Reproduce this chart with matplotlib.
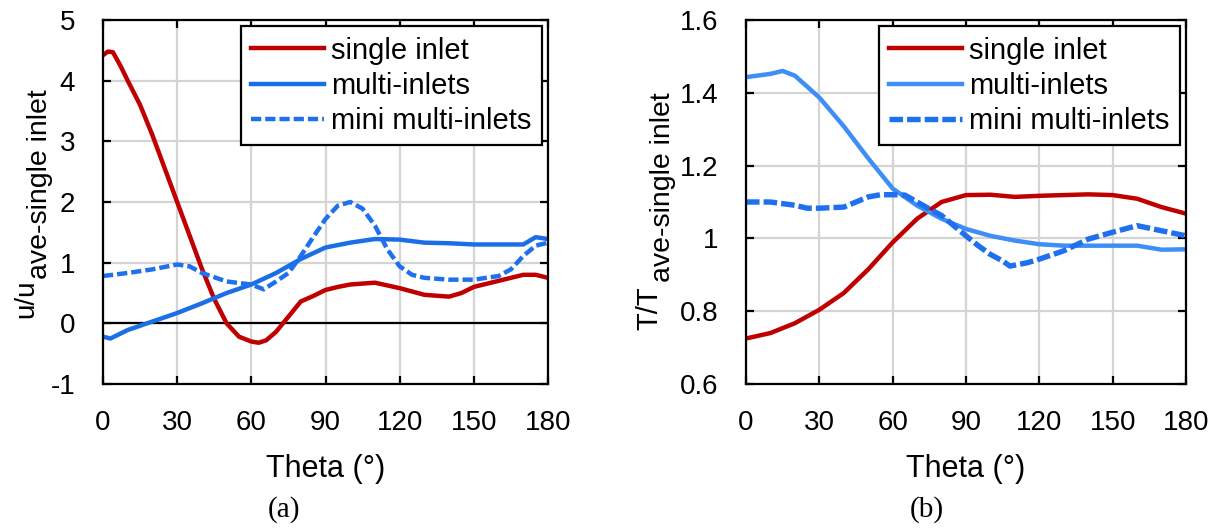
import numpy as np
import matplotlib.pyplot as plt

plt.rcParams['font.family'] = ['Liberation Sans', 'DejaVu Sans']
plt.rcParams['axes.unicode_minus'] = False

# (a) velocity ratio u/u_ave-single inlet
a_single_x = [0, 2, 4, 7, 10, 15, 20, 25, 30, 35, 40, 45, 50, 55, 60, 63, 66, 70, 75, 80, 85,
              90, 95, 100, 110, 120, 130, 140, 145, 150, 160, 170, 175, 180]
a_single_y = [4.42, 4.48, 4.47, 4.25, 4.0, 3.6, 3.1, 2.55, 2.0, 1.45, 0.9, 0.4, 0.0, -0.22, -0.3,
              -0.32, -0.28, -0.14, 0.11, 0.36, 0.45, 0.55, 0.6, 0.64, 0.67, 0.58, 0.47, 0.44,
              0.5, 0.6, 0.7, 0.8, 0.8, 0.75]
a_multi_x = [0, 3, 10, 20, 30, 40, 50, 60, 70, 80, 90, 100, 110, 120, 130, 140, 150, 160, 170,
             175, 180]
a_multi_y = [-0.22, -0.25, -0.11, 0.03, 0.17, 0.33, 0.5, 0.64, 0.83, 1.06, 1.25, 1.33, 1.39,
             1.38, 1.33, 1.32, 1.3, 1.3, 1.3, 1.42, 1.39]
a_mini_x = [0, 10, 20, 30, 35, 40, 50, 60, 65, 70, 75, 80, 85, 90, 95, 100, 105, 110, 115, 120,
            125, 130, 140, 150, 160, 165, 170, 175, 180]
a_mini_y = [0.78, 0.83, 0.89, 0.97, 0.94, 0.83, 0.69, 0.64, 0.56, 0.69, 0.83, 1.11, 1.42, 1.72,
            1.94, 2.0, 1.89, 1.61, 1.22, 0.94, 0.8, 0.75, 0.72, 0.72, 0.78, 0.89, 1.11, 1.28, 1.33]

# (b) temperature ratio T/T_ave-single inlet
b_single_x = [0, 10, 20, 30, 40, 50, 60, 70, 80, 90, 100, 110, 120, 130, 140, 150, 160, 170, 180]
b_single_y = [0.725, 0.74, 0.767, 0.804, 0.85, 0.915, 0.989, 1.054, 1.1, 1.119, 1.12, 1.114,
              1.117, 1.119, 1.121, 1.119, 1.109, 1.086, 1.068]
b_multi_x = [0, 10, 15, 20, 30, 40, 50, 60, 70, 80, 90, 100, 110, 120, 130, 140, 150, 160, 170, 180]
b_multi_y = [1.443, 1.452, 1.46, 1.447, 1.387, 1.308, 1.22, 1.137, 1.09, 1.054, 1.026, 1.007,
             0.994, 0.984, 0.98, 0.98, 0.98, 0.98, 0.969, 0.97]
b_mini_x = [0, 10, 20, 25, 30, 40, 45, 50, 55, 60, 65, 70, 75, 80, 85, 90, 95, 100, 105, 108,
            115, 120, 130, 140, 150, 160, 165, 170, 180]
b_mini_y = [1.1, 1.1, 1.091, 1.083, 1.083, 1.086, 1.1, 1.114, 1.12, 1.12, 1.119, 1.1, 1.081,
            1.063, 1.035, 1.007, 0.98, 0.956, 0.938, 0.924, 0.933, 0.943, 0.966, 0.998, 1.017,
            1.035, 1.028, 1.021, 1.007]

labels = ['single inlet', 'multi-inlets', 'mini multi-inlets']
xticks = [0, 30, 60, 90, 120, 150, 180]

red = '#c00000'
blue_a = '#1b6fe6'
blue_b = '#3d8ef5'
blue_dash = '#1f70ee'

W, H = 1223, 528
fig = plt.figure(figsize=(W / 100, H / 100), dpi=100)
ax1 = fig.add_axes([103 / W, 1 - 384 / H, 445 / W, 364 / H])
ax2 = fig.add_axes([746 / W, 1 - 384 / H, 440 / W, 364 / H])


def style(ax, yticks, ylim):
    ax.set_xlim(0, 180)
    ax.set_ylim(*ylim)
    ax.set_xticks(xticks)
    ax.set_yticks(yticks)
    ax.grid(True, color='#d4d4d4', lw=1.6)
    ax.set_axisbelow(True)
    for s in ax.spines.values():
        s.set_linewidth(1.6)
    ax.tick_params(direction='in', length=6, width=1.6, top=True, right=True, labelsize=20)
    ax.tick_params(axis='x', pad=19)
    ax.tick_params(axis='y', pad=20)
    ax.set_xlabel('Theta (°)', fontsize=22, labelpad=13)


style(ax1, [-1, 0, 1, 2, 3, 4, 5], (-1, 5))
ax1.axhline(0, color='black', lw=1.6, zorder=1.5)
ax1.plot(a_single_x, a_single_y, color=red, lw=3.2, label=labels[0])
ax1.plot(a_multi_x, a_multi_y, color=blue_a, lw=3.2, label=labels[1])
ax1.plot(a_mini_x, a_mini_y, color=blue_dash, lw=3.2, dashes=[2.3, 0.9], label=labels[2])

style(ax2, [0.6, 0.8, 1.0, 1.2, 1.4, 1.6], (0.6, 1.6))
ax2.set_yticklabels(['0.6', '0.8', '1', '1.2', '1.4', '1.6'])
ax2.plot(b_single_x, b_single_y, color=red, lw=3.2, label=labels[0])
ax2.plot(b_multi_x, b_multi_y, color=blue_b, lw=3.2, label=labels[1])
ax2.plot(b_mini_x, b_mini_y, color=blue_dash, lw=3.9, dashes=[2.5, 0.75], label=labels[2])

for ax in (ax1, ax2):
    leg = ax.legend(loc='upper right', fontsize=21, frameon=True, fancybox=False,
                    edgecolor='black', framealpha=1, handlelength=2.5, handletextpad=0.25,
                    labelspacing=0.25, borderpad=0.35, borderaxespad=0.22)
    leg.get_frame().set_linewidth(1.6)

# y labels with large subscripts
fig.text(33 / W, 1 - 318 / H, 'u/u', rotation=90, rotation_mode='anchor',
         ha='left', va='baseline', fontsize=20)
fig.text(47 / W, 1 - 279 / H, 'ave-single inlet', rotation=90, rotation_mode='anchor',
         ha='left', va='baseline', fontsize=20.5)
fig.text(657 / W, 1 - 330 / H, 'T/T', rotation=90, rotation_mode='anchor',
         ha='left', va='baseline', fontsize=21)
fig.text(670 / W, 1 - 282 / H, 'ave-single inlet', rotation=90, rotation_mode='anchor',
         ha='left', va='baseline', fontsize=20.5)

fig.text(284 / W, 1 - 510 / H, '(a)', ha='center', va='center', fontsize=21,
         family='Liberation Serif')
fig.text(927 / W, 1 - 510 / H, '(b)', ha='center', va='center', fontsize=21,
         family='Liberation Serif')

fig.savefig('out.png', dpi=100)
